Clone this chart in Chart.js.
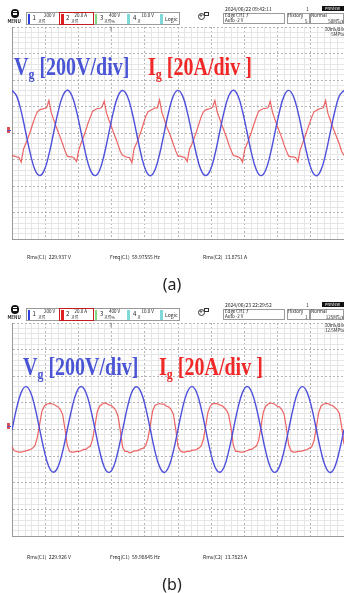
<!DOCTYPE html>
<html><head><meta charset="utf-8">
<script src="https://cdn.jsdelivr.net/npm/chart.js@4/dist/chart.umd.min.js"></script>
<style>
html,body{margin:0;padding:0;background:#fff;}
#page{position:relative;width:344px;height:593px;overflow:hidden;background:#fff;}
canvas{position:absolute;left:0;}
.t{position:absolute;white-space:pre;font-family:'Noto Sans CJK KR','DejaVu Sans',sans-serif;color:#222;line-height:1;z-index:3;}
.box{position:absolute;box-sizing:border-box;z-index:2;}
.lbl{position:absolute;white-space:pre;font-family:'Liberation Serif','Times New Roman',serif;font-weight:bold;font-size:25px;line-height:25px;transform:scaleX(0.8);transform-origin:0 0;z-index:4;}
.lbl span{font-size:15px;vertical-align:-4px;}
</style></head>
<body>
<div id="page">
<canvas id="ca" width="344" height="296" style="top:0;width:344px;height:296px"></canvas>
<canvas id="cb" width="344" height="297" style="top:296px;width:344px;height:297px"></canvas>
<div class="lbl" style="left:14px;top:54px;color:#4a55d6">V<span>g</span> [200V/div]</div>
<div class="lbl" style="left:148px;top:54px;color:#f02828">I<span>g</span> [20A/div ]</div>
<div class="lbl" style="left:23px;top:354px;color:#4a55d6">V<span>g</span> [200V/div]</div>
<div class="lbl" style="left:159px;top:354px;color:#f02828">I<span>g</span> [20A/div ]</div>
</div>
<script>
// ---- data (screen = 10 div x 10 ms = 100 ms) ----
// (a) grid voltage [V], 12 samples per 16.67 ms period
const blueA = [
 322,280,161,1,-160,-279,-321,-280,-163,-2,160,279,
 323,281,163,2,-161,-280,-322,-281,-162,-1,161,280,
 321,279,162,0,-162,-281,-323,-279,-161,1,162,281,
 322,280,160,-1,-163,-280,-321,-280,-162,0,161,279,
 323,281,162,2,-161,-279,-322,-281,-163,-1,160,280,
 322,279,161,0,-162,-281,-323,-280,-161,1,162,281,
 322];
// (a) grid current [A], 24 samples per period
const redA = [
 -17,-17.5,-18,-18.5,-22,-12,-8,-3.5,1.5,7,12,16,17.5,18,18.5,19,24.5,15.5,10.5,5.5,1,-3.5,-8.5,-13.5,
 -17.5,-18,-18,-19,-21.5,-12.5,-7.5,-3,2,7.5,12,16.5,17.5,18.5,18.5,19.5,24,15,10,5.5,0.5,-4,-9,-14,
 -17,-17.5,-18.5,-18.5,-22.5,-11.5,-8,-3.5,1.5,7,12.5,16,17,18,19,19,25,15.5,10.5,5,1,-3.5,-8.5,-13.5,
 -17.5,-17.5,-18,-18.5,-21.5,-12,-8.5,-4,1,6.5,12,16,17.5,18,18.5,19.5,24.5,16,11,6,1.5,-3,-8.5,-13,
 -17,-17.5,-18,-19,-22,-12,-8,-3.5,1.5,7,12,16.5,17.5,18.5,18.5,19,24,15.5,10.5,5.5,1,-3.5,-9,-13.5,
 -17.5,-18,-18,-18.5,-22,-12.5,-8,-3,2,7,12,16,17,18,18.5,19,24.5,15,10,5,0.5,-4,-8.5,-14,
 -17];
// (b) grid voltage [V]
const blueB = [
 -2,160,279,322,281,162,1,-161,-280,-321,-279,-162,
 0,161,280,323,280,163,2,-160,-281,-322,-281,-161,
 -1,162,281,321,279,161,0,-162,-279,-323,-280,-163,
 1,163,280,322,281,160,-1,-163,-280,-321,-281,-162,
 0,161,279,323,280,162,2,-161,-281,-322,-279,-160,
 -1,160,281,322,279,163,0,-162,-280,-323,-281,-161,
 0];
// (b) grid current [A]
const redB = [
 -13,-16,-16.5,-17,-17,-16.5,-16,-15.5,-15,-14,-12,-6,4,14,17.5,19,19.5,19.5,19,18,17,15,11,0,
 -12,-16.5,-17,-17,-16.5,-16.5,-16,-15,-15,-13.5,-12.5,-7,3,13.5,17.5,19,20,19.5,18.5,18,16.5,14.5,10,-1,
 -13.5,-16.5,-16.5,-17.5,-17,-16,-16,-15.5,-14.5,-14,-12,-6.5,3.5,14,18,19,19.5,19,19,17.5,17,15,11.5,0.5,
 -12.5,-16,-17,-17,-16.5,-16.5,-15.5,-15.5,-15,-14,-12.5,-7.5,2.5,13,17.5,19.5,19.5,19.5,18.5,18,16.5,14.5,11,1,
 -12,-16.5,-16.5,-17,-17,-16.5,-16,-15,-15,-13.5,-12.5,-8,2,13,17.5,19,20,19.5,19,17.5,17,15,11.5,1.5,
 -11.5,-16,-17,-17,-16.5,-16.5,-16,-15.5,-15,-14,-13,-8.5,1.5,12.5,17.5,19,19.5,19.5,18.5,18,16.5,15,12,2,
 -11];
const SCREEN_MS = 100;
const V_RANGE = 800;   // 200 V/div x 4 div
const I_RANGE = 80;    // 20 A/div x 4 div

const headerA = {date:'2024/06/22 09:42:11', hist:'5', rate:'50MS/s', pts:'5MPts'};
const headerB = {date:'2024/06/23 22:29:52', hist:'1', rate:'125MS/s', pts:'12.5MPts'};
const measA = ['Rms(C1)  229.937 V','Freq(C1)  59.97555 Hz','Rms(C2)  13.8751 A'];
const measB = ['Rms(C1)  229.926 V','Freq(C1)  59.98845 Hz','Rms(C2)  13.7823 A'];

function pts(vals){const step=SCREEN_MS/(vals.length-1);return vals.map((v,i)=>({x:i*step,y:v}));}
const isMul=(v,m)=>Math.abs(v/m-Math.round(v/m))<1e-6;

function makeChart(id, blue, red){
  return new Chart(document.getElementById(id),{
    type:'line',
    data:{datasets:[
      {data:pts(blue),yAxisID:'yV',borderColor:'rgb(78,80,220)',borderWidth:1.4,pointRadius:0,tension:0.4},
      {data:pts(red),yAxisID:'yI',borderColor:'rgba(236,78,78,0.88)',borderWidth:1.2,pointRadius:0,tension:0}
    ]},
    options:{
      responsive:false,animation:false,devicePixelRatio:1,
      layout:{padding:{left:12,top:27,right:0,bottom:57}},
      plugins:{legend:{display:false},tooltip:{enabled:false}},
      scales:{
        x:{type:'linear',min:0,max:SCREEN_MS,ticks:{display:false,stepSize:2},
           grid:{drawTicks:false,color:c=>isMul(c.tick.value,10)?'rgba(0,0,0,0)':'#e6e6e6'},border:{display:false}},
        xM:{type:'linear',axis:'x',position:'bottom',min:0,max:SCREEN_MS,ticks:{display:false,stepSize:10},
           grid:{drawTicks:false,color:'#b3b3b3'},border:{display:true,color:'#9a9a9a',dash:[2,2]}},
        yV:{type:'linear',position:'left',min:-V_RANGE,max:V_RANGE,ticks:{display:false,stepSize:40},
           grid:{drawTicks:false,color:c=>isMul(c.tick.value,200)?'rgba(0,0,0,0)':'#e6e6e6'},border:{display:false}},
        yM:{type:'linear',axis:'y',position:'left',min:-V_RANGE,max:V_RANGE,ticks:{display:false,stepSize:200},
           grid:{drawTicks:false,color:'#b3b3b3'},border:{display:true,color:'#9a9a9a',dash:[2,2]}},
        yI:{type:'linear',min:-I_RANGE,max:I_RANGE,display:false}
      }
    }
  });
}
makeChart('ca',blueA,redA);
makeChart('cb',blueB,redB);

const page=document.getElementById('page');
function addT(x,y,txt,size,o={}){
  const e=document.createElement('div');e.className='t';e.textContent=txt;
  e.style.top=y+'px';e.style.fontSize=size+'px';
  if(o.right){e.style.right=(344-x)+'px';}else{e.style.left=x+'px';}
  if(o.color)e.style.color=o.color;
  if(o.weight)e.style.fontWeight=o.weight;
  page.appendChild(e);return e;
}
function addBox(x,y,w,h,css){
  const e=document.createElement('div');e.className='box';
  e.style.left=x+'px';e.style.top=y+'px';e.style.width=w+'px';e.style.height=h+'px';
  e.style.cssText+=css;page.appendChild(e);return e;
}
function header(oy,h){
  addBox(10.5,9+oy,8.5,8.5,'background:#111;border-radius:50%;');
  for(let k=0;k<3;k++)addBox(12.5,11.2+k*1.6+oy,4.5,0.8,'background:#fff;');
  addT(7.5,18.5+oy,'MENU',4.5,{weight:'bold'});
  addBox(26,12+oy,154,12.5,'border:1px solid #9a9a9a;');
  const ch=[
    {bx:27.5,col:'#3040e0',n:'1',nx:32.5,s:'200 V',sx:44,c:'교류',cx:38},
    {bx:61,col:'#e02020',n:'2',nx:66,s:'20.0 A',sx:74.5,c:'교류',cx:71},
    {bx:94.5,col:'#80d880',n:'3',nx:100,s:'400 V',sx:109,c:'교류%',cx:104},
    {bx:127,col:'#80d8d8',n:'4',nx:133,s:'10.0 V',sx:141.5,c:'교',cx:137}
  ];
  ch.forEach(c=>{
    addBox(c.bx,13.5+oy,2.5,10,'background:'+c.col+';');
    addT(c.nx,15+oy,c.n,6);
    addT(c.sx,12.8+oy,c.s,4.5);
    addT(c.cx,18.5+oy,c.c,4);
  });
  addBox(59,11.5+oy,34.5,13.5,'border:1.4px solid #c41c1c;');
  addBox(160,13.5+oy,2.5,10,'background:#80d8d8;');
  addT(165,16+oy,'Logic',5);
  addBox(197.5,13+oy,7,7,'border:1.2px solid #333;border-radius:50%;');
  addT(199.3,13.4+oy,'+',6,{weight:'bold'});
  addBox(203.5,11.5+oy,5,4,'border:1px solid #333;background:#fff;');
  addT(225,6+oy,h.date,5);
  addT(306,6+oy,'1',5);
  addBox(322,5.5+oy,22,5,'background:#111;');
  addT(325,5.8+oy,'Preview',4,{color:'#fff'});
  addBox(223,12.5+oy,62,11,'border:1px solid #9a9a9a;');
  addT(225,13+oy,'Edge CH1 ƒ',4.5);
  addT(225,18+oy,'Auto -2 V',4.5);
  addBox(287,12.5+oy,22.5,11,'border:1px solid #9a9a9a;');
  addT(288,13+oy,'History',4.5);
  addT(305,18.5+oy,h.hist,4.5);
  addBox(310,12.5+oy,34,11,'border:1px solid #9a9a9a;');
  addT(311,13+oy,'Normal',4.5);
  addT(343.5,18.5+oy,h.rate,4.5,{right:true});
  addT(344,26.5+oy,'10ms/div',4.5,{right:true});
  addT(344,31.5+oy,h.pts,4.5,{right:true});
  addT(108.5,25+oy,'↓',5);
  addBox(7,127+oy,3,6,'background:#e05050;');
  addBox(6.5,129.5+oy,4,1,'background:#5050d0;');
}
header(0,headerA);
header(296,headerB);
function meas(oy,m){
  addT(27,254+oy,m[0],5);
  addT(110,254+oy,m[1],5);
  addT(203,254+oy,m[2],5);
}
meas(0,measA);meas(300,measB);
function cap(y,txt){const e=addT(150,y,txt,16,{color:'#222'});e.style.width='44px';e.style.textAlign='center';e.style.fontFamily="'Noto Sans','DejaVu Sans',sans-serif";}
cap(276,'(a)');cap(576,'(b)');
</script>
</body></html>
